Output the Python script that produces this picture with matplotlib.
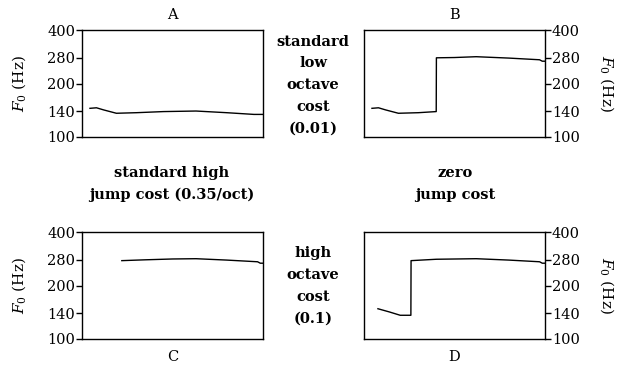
import matplotlib
matplotlib.use("Agg")
import matplotlib.pyplot as plt
from matplotlib.ticker import FixedLocator, NullLocator, FixedFormatter

plt.rcParams["font.family"] = ["DejaVu Serif"]
plt.rcParams["mathtext.fontset"] = "dejavuserif"

# time (s, normalised) and F0 (Hz) of each pitch track
t_a = [0.044, 0.08, 0.12, 0.19, 0.30, 0.45, 0.63, 0.80, 0.95, 1.0]
f_a = [145, 146, 142, 136, 137, 139, 140, 137, 134, 134]

t_b = [0.044, 0.08, 0.12, 0.19, 0.30, 0.399, 0.40, 0.50, 0.62, 0.80, 0.97, 0.985, 1.0]
f_b = [145, 146, 142, 136, 137, 139, 279, 280, 283, 278, 272, 267, 267]

t_c = [0.22, 0.35, 0.50, 0.63, 0.80, 0.97, 0.985, 1.0]
f_c = [276, 279, 282, 283, 278, 272, 267, 267]

t_d = [0.077, 0.14, 0.20, 0.259, 0.26, 0.40, 0.62, 0.80, 0.97, 0.985, 1.0]
f_d = [148, 142, 136, 136, 276, 281, 283, 278, 272, 267, 267]

y_ticks = [100, 140, 200, 280, 400]

fig = plt.figure(figsize=(6.2, 3.65), dpi=100)
W, H = 620, 365


def make_axes(left, top, right, bottom):
    return fig.add_axes([left / W, 1 - bottom / H, (right - left) / W, (bottom - top) / H])


ax_a = make_axes(82, 30, 263, 137)
ax_b = make_axes(364, 30, 545, 137)
ax_c = make_axes(82, 232, 263, 339)
ax_d = make_axes(364, 232, 545, 339)

tracks = [(ax_a, t_a, f_a), (ax_b, t_b, f_b), (ax_c, t_c, f_c), (ax_d, t_d, f_d)]
for i, (ax, t, f) in enumerate(tracks):
    ax.plot(t, f, color="black", lw=1.0)
    ax.set_yscale("log")
    ax.set_ylim(100, 400)
    ax.set_xlim(0, 1.0)
    ax.yaxis.set_major_locator(FixedLocator(y_ticks))
    ax.yaxis.set_major_formatter(FixedFormatter([str(v) for v in y_ticks]))
    ax.yaxis.set_minor_locator(NullLocator())
    ax.set_xticks([])
    ax.tick_params(axis="y", labelsize=10.5, length=4, width=1, pad=1)
    for s in ax.spines.values():
        s.set_linewidth(1.0)
    if i % 2 == 1:
        ax.yaxis.tick_right()
        ax.yaxis.set_label_position("right")
        ax.set_ylabel("$F_0$ (Hz)", fontsize=11, rotation=270, labelpad=26)
    else:
        ax.set_ylabel("$F_0$ (Hz)", fontsize=11, labelpad=14)

ax_a.set_title("A", fontsize=10.5, pad=8)
ax_b.set_title("B", fontsize=10.5, pad=8)
ax_c.set_xlabel("C", fontsize=10.5, labelpad=8)
ax_d.set_xlabel("D", fontsize=10.5, labelpad=8)

bold = dict(fontsize=10.5, fontweight="bold", ha="center", va="center", linespacing=1.7)
fig.text(313 / W, 1 - 85 / H, "standard\nlow\noctave\ncost\n(0.01)", **bold)
fig.text(172 / W, 1 - 184 / H, "standard high\njump cost (0.35/oct)", **bold)
fig.text(455 / W, 1 - 184 / H, "zero\njump cost", **bold)
fig.text(313 / W, 1 - 286 / H, "high\noctave\ncost\n(0.1)", **bold)

fig.savefig("out.png", dpi=100)
